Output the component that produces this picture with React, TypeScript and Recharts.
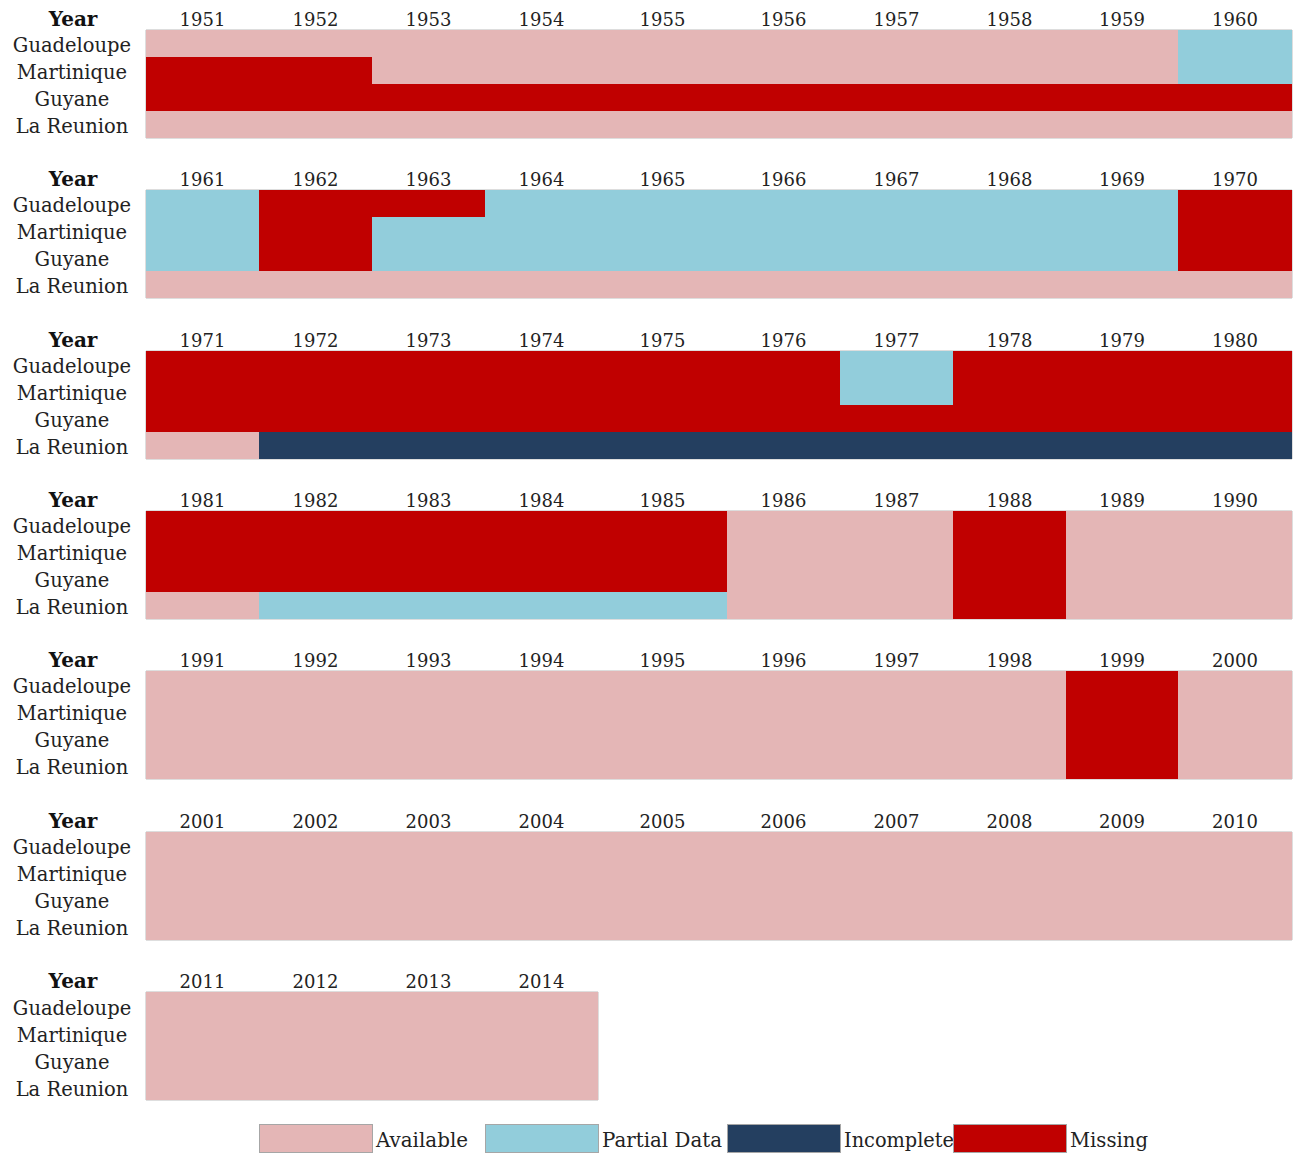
import React from "react";
import { BarChart, Bar, Cell, XAxis, YAxis, ReferenceArea, Legend, Label } from "recharts";

type Status = "A" | "P" | "I" | "M";

const years = [
  1951, 1952, 1953, 1954, 1955, 1956, 1957, 1958, 1959, 1960,
  1961, 1962, 1963, 1964, 1965, 1966, 1967, 1968, 1969, 1970,
  1971, 1972, 1973, 1974, 1975, 1976, 1977, 1978, 1979, 1980,
  1981, 1982, 1983, 1984, 1985, 1986, 1987, 1988, 1989, 1990,
  1991, 1992, 1993, 1994, 1995, 1996, 1997, 1998, 1999, 2000,
  2001, 2002, 2003, 2004, 2005, 2006, 2007, 2008, 2009, 2010,
  2011, 2012, 2013, 2014,
];

const countries = ["Guadeloupe", "Martinique", "Guyane", "La Reunion"];

// one status per year, 1951..2014
const guadeloupe: Status[] = [
  "A", "A", "A", "A", "A", "A", "A", "A", "A", "P",
  "P", "M", "M", "P", "P", "P", "P", "P", "P", "M",
  "M", "M", "M", "M", "M", "M", "P", "M", "M", "M",
  "M", "M", "M", "M", "M", "A", "A", "M", "A", "A",
  "A", "A", "A", "A", "A", "A", "A", "A", "M", "A",
  "A", "A", "A", "A", "A", "A", "A", "A", "A", "A",
  "A", "A", "A", "A",
];
const martinique: Status[] = [
  "M", "M", "A", "A", "A", "A", "A", "A", "A", "P",
  "P", "M", "P", "P", "P", "P", "P", "P", "P", "M",
  "M", "M", "M", "M", "M", "M", "P", "M", "M", "M",
  "M", "M", "M", "M", "M", "A", "A", "M", "A", "A",
  "A", "A", "A", "A", "A", "A", "A", "A", "M", "A",
  "A", "A", "A", "A", "A", "A", "A", "A", "A", "A",
  "A", "A", "A", "A",
];
const guyane: Status[] = [
  "M", "M", "M", "M", "M", "M", "M", "M", "M", "M",
  "P", "M", "P", "P", "P", "P", "P", "P", "P", "M",
  "M", "M", "M", "M", "M", "M", "M", "M", "M", "M",
  "M", "M", "M", "M", "M", "A", "A", "M", "A", "A",
  "A", "A", "A", "A", "A", "A", "A", "A", "M", "A",
  "A", "A", "A", "A", "A", "A", "A", "A", "A", "A",
  "A", "A", "A", "A",
];
const laReunion: Status[] = [
  "A", "A", "A", "A", "A", "A", "A", "A", "A", "A",
  "A", "A", "A", "A", "A", "A", "A", "A", "A", "A",
  "A", "I", "I", "I", "I", "I", "I", "I", "I", "I",
  "A", "P", "P", "P", "P", "A", "A", "M", "A", "A",
  "A", "A", "A", "A", "A", "A", "A", "A", "M", "A",
  "A", "A", "A", "A", "A", "A", "A", "A", "A", "A",
  "A", "A", "A", "A",
];

const series = [guadeloupe, martinique, guyane, laReunion];

const statusOrder: Status[] = ["A", "P", "I", "M"];
const statusNames: Record<Status, string> = {
  A: "Available",
  P: "Partial Data",
  I: "Incomplete",
  M: "Missing",
};
const statusColors: Record<Status, string> = {
  A: "#e4b6b6",
  P: "#92cddb",
  I: "#243f60",
  M: "#c00000",
};

// layout: the grid columns are not all equal (the fifth one is wider)
const colWidths = [113, 113, 113, 113, 129, 113, 113, 113, 112, 114];
const colTotal = colWidths.reduce((a, b) => a + b, 0);
const colStarts = colWidths.map((_, i) => colWidths.slice(0, i).reduce((a, b) => a + b, 0));
const colCenters = colWidths.map((w, i) => colStarts[i] + w / 2);

const FONT = "'DejaVu Serif', serif";
const PER_ROW = 10;
const CHART_W = 1295;
const PLOT_LEFT = 146;
const AXIS_H = 30;
const PLOT_H = 108;
const GAP = 22.33;
const LEGEND_H = 54;

const CountryTick = ({ y, payload }: any) => (
  <text x={72} y={y} dy={9} textAnchor="middle" fontFamily={FONT} fontSize={19.5} fill="#222">
    {payload.value}
  </text>
);

const YearLabel = ({ viewBox }: any) => (
  <text
    x={viewBox.x - 73}
    y={viewBox.y + viewBox.height - 4}
    textAnchor="middle"
    fontFamily={FONT}
    fontSize={20}
    fontWeight="bold"
    fill="#111"
  >
    Year
  </text>
);

// legend swatches sit in grid columns 2, 4, 6 and 8
const legendCols = [1, 3, 5, 7];
const legendTextW = [92, 120, 110, 78];

const StatusLegend = () => (
  <svg width={CHART_W} height={LEGEND_H} style={{ display: "block" }}>
    {statusOrder.map((s, i) => {
      const x = PLOT_LEFT + colStarts[legendCols[i]];
      return (
        <g key={s}>
          <rect
            x={x + 0.5}
            y={LEGEND_H - 29.5}
            width={colWidths[legendCols[i]]}
            height={28}
            fill={statusColors[s]}
            stroke="#a6a6a6"
            strokeWidth={1}
          />
          <text
            x={x + colWidths[legendCols[i]] + 4}
            y={LEGEND_H - 7}
            fontFamily={FONT}
            fontSize={20}
            fill="#222"
            textLength={legendTextW[i]}
            lengthAdjust="spacingAndGlyphs"
          >
            {statusNames[s]}
          </text>
        </g>
      );
    })}
  </svg>
);

const Panel = ({ start, last }: { start: number; last?: boolean }) => {
  const slice = years.slice(start, start + PER_ROW);
  const data = countries.map((c) => {
    const row: Record<string, string | number> = { country: c };
    slice.forEach((_, i) => {
      row["y" + i] = colWidths[i];
    });
    return row;
  });
  const height = AXIS_H + PLOT_H + (last ? LEGEND_H : GAP);

  return (
    <BarChart
      width={CHART_W}
      height={height}
      data={data}
      layout="vertical"
      barCategoryGap={0}
      margin={{ top: 0, right: CHART_W - PLOT_LEFT - colTotal, left: 0, bottom: last ? 0 : GAP }}
    >
      <XAxis
        type="number"
        orientation="top"
        domain={[0, colTotal]}
        ticks={colCenters.slice(0, slice.length)}
        tickFormatter={(_v: number, i: number) => String(slice[i])}
        interval={0}
        height={AXIS_H}
        axisLine={false}
        tickLine={false}
        tickSize={0}
        tickMargin={4}
        tick={{ fontFamily: FONT, fontSize: 18, fill: "#222" }}
      >
        <Label content={YearLabel} />
      </XAxis>
      <YAxis
        type="category"
        dataKey="country"
        width={PLOT_LEFT}
        axisLine={false}
        tickLine={false}
        tick={CountryTick}
        interval={0}
      />
      {slice.map((yr, i) => (
        <Bar key={yr} dataKey={"y" + i} stackId="s" isAnimationActive={false}>
          {countries.map((c, ci) => (
            <Cell
              key={c}
              fill={statusColors[series[ci][start + i]]}
              shapeRendering="crispEdges"
            />
          ))}
        </Bar>
      ))}
      <ReferenceArea
        x1={0}
        x2={colStarts[slice.length - 1] + colWidths[slice.length - 1]}
        y1={countries[0]}
        y2={countries[countries.length - 1]}
        fill="none"
        stroke="#bdbdbd"
        strokeWidth={1}
        ifOverflow="visible"
      />
      {last && <Legend verticalAlign="bottom" content={StatusLegend} />}
    </BarChart>
  );
};

const starts = [0, 10, 20, 30, 40, 50, 60];

export default function App() {
  return (
    <div style={{ width: CHART_W, background: "#fff" }}>
      <style>{"body{margin:0}"}</style>
      {starts.map((s, i) => (
        <Panel key={s} start={s} last={i === starts.length - 1} />
      ))}
    </div>
  );
}
